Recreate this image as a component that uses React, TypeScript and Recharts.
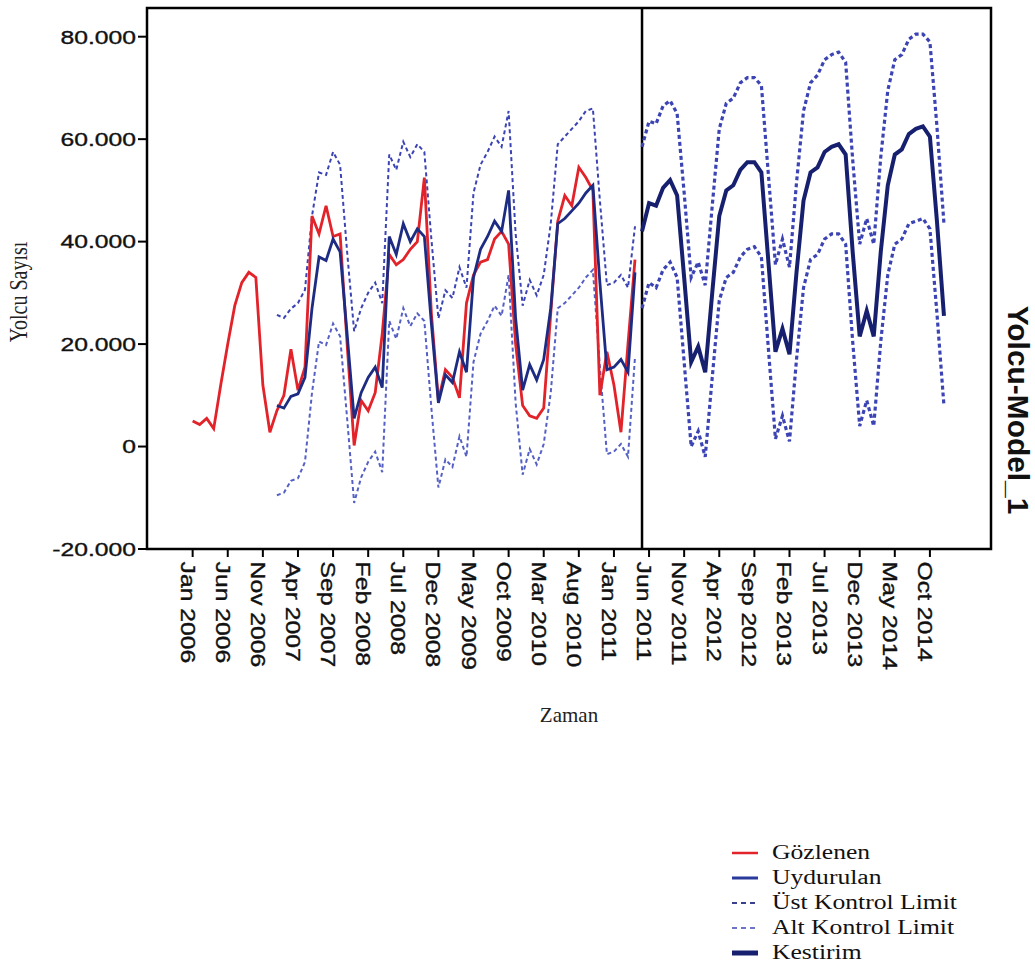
import React from "react";
import {
  ComposedChart,
  Line,
  XAxis,
  YAxis,
  ReferenceArea,
  ReferenceLine,
} from "recharts";

// month index 0 = Jan 2006, 107 = Dec 2014
const tickMonths = [0, 5, 10, 15, 20, 25, 30, 35, 40, 45, 50, 55, 60, 65, 70, 75, 80, 85, 90, 95, 100, 105];
const tickLabels = [
  "Jan 2006", "Jun 2006", "Nov 2006", "Apr 2007", "Sep 2007", "Feb 2008",
  "Jul 2008", "Dec 2008", "May 2009", "Oct 2009", "Mar 2010", "Aug 2010",
  "Jan 2011", "Jun 2011", "Nov 2011", "Apr 2012", "Sep 2012", "Feb 2013",
  "Jul 2013", "Dec 2013", "May 2014", "Oct 2014",
];
const yTicks = [-20000, 0, 20000, 40000, 60000, 80000];

// Gözlenen: Jan 2006 - Apr 2011
const observed = [
  5000, 4300, 5500, 3500, 12000, 20000, 27500, 32000, 34000, 33000, 12000, 2800,
  7000, 10000, 19000, 11000, 15500, 45000, 41500, 47000, 41000, 41500, 20000, 200,
  9000, 7000, 10500, 22000, 37500, 35500, 36500, 38500, 40000, 52500, 26000, 9000,
  15000, 13500, 9500, 28000, 33500, 36000, 36500, 40500, 42000, 39500, 20000, 8000,
  6000, 5500, 7500, 26000, 44000, 49000, 47000, 54500, 52500, 50000, 10000, 18500,
  12000, 2800, 20000, 36500,
];

// Uydurulan + control limits: Jan 2007 - Apr 2011
const fitStart = 12;
const fitted = [
  8000, 7500, 9800, 10300, 13500, 27000, 37000, 36300, 40500, 38000, 22000, 5500,
  10500, 13500, 15500, 11500, 41000, 37500, 43500, 40000, 42500, 41000, 24000, 8500,
  14000, 12500, 18500, 14500, 33000, 38500, 41000, 44000, 42000, 50000, 25000, 11000,
  16000, 13000, 17000, 27000, 43500, 44500, 46000, 47500, 49500, 51000, 32000, 15000,
  15500, 17000, 14500, 34000,
];
const upperFit = [
  25700, 25100, 26900, 28000, 30600, 45000, 53500, 53000, 57500, 55000, 38000, 22500,
  27000, 30000, 32000, 28000, 57000, 54000, 59500, 56500, 59000, 57500, 40500, 25000,
  30500, 29000, 35000, 31000, 49500, 55000, 57500, 60500, 58500, 65500, 41500, 27500,
  32500, 29500, 33500, 43500, 59000, 60500, 62000, 63500, 65500, 66000, 48000, 31500,
  32000, 33500, 31000, 43000,
];
const lowerFit = [
  -9500, -9000, -6700, -6200, -3000, 10500, 20500, 19800, 24000, 21500, 5500, -11000,
  -6000, -3000, -1000, -5000, 24500, 21000, 27000, 23500, 26000, 24500, 7500, -8000,
  -2500, -4000, 2000, -2000, 16500, 22000, 24500, 27500, 25500, 33500, 8500, -5500,
  -500, -3500, 500, 10500, 27000, 28000, 29500, 31000, 33000, 34500, 15500, -1500,
  -1000, 500, -2000, 17500,
];

// Kestirim + control limits: May 2011 - Dec 2014
const fcStart = 64;
const forecast = [
  42000, 47500, 47000, 50500, 52000, 49000, 33000, 16500,
  19500, 14500, 30000, 45000, 50000, 51000, 54000, 55500, 55500, 53500, 36000, 18500,
  23000, 18000, 34000, 48000, 53500, 54500, 57500, 58500, 59000, 57000, 38000, 21500,
  26500, 21500, 38000, 51000, 57000, 58000, 61000, 62000, 62500, 60500, 44000, 25500,
];
const upperFc = [
  58500, 63500, 63000, 66500, 67500, 65000, 49500, 33000,
  36000, 31500, 47000, 62000, 67000, 68000, 71000, 72000, 72000, 70500, 53000, 35500,
  40500, 35000, 51500, 65500, 71000, 72500, 75500, 76500, 77000, 75000, 56000, 39500,
  44500, 39500, 56500, 69500, 75500, 76500, 79500, 80500, 80500, 79000, 62500, 43500,
];
const lowerFc = [
  27000, 32000, 31000, 34500, 36000, 33000, 16500, 0,
  3000, -2000, 13500, 28500, 33000, 34000, 37000, 38500, 39000, 37000, 19000, 1500,
  6000, 1000, 17000, 31000, 36500, 37500, 40500, 41500, 41500, 39500, 20500, 4000,
  9000, 4000, 20500, 33500, 39500, 40500, 43500, 44000, 44500, 42500, 26000, 8000,
];

const totalMonths = 108;
const pick = (arr: number[], start: number, i: number) =>
  i >= start && i < start + arr.length ? arr[i - start] : null;

const data = Array.from({ length: totalMonths }, (_, i) => ({
  i,
  obs: pick(observed, 0, i),
  fit: pick(fitted, fitStart, i),
  ucl: pick(upperFit, fitStart, i),
  lcl: pick(lowerFit, fitStart, i),
  fc: pick(forecast, fcStart, i),
  uclF: pick(upperFc, fcStart, i),
  lclF: pick(lowerFc, fcStart, i),
}));

const X_MIN = -6.5;
const X_MAX = 113.7;
const Y_MIN = -20000;
const Y_MAX = 85600;

const SANS = "'Liberation Sans', Arial, sans-serif";
const SERIF = "'Liberation Serif', 'Times New Roman', serif";

const RED = "#e2232a";
const NAVY = "#1d2c82";
const DEEP = "#17206f";
const DASH_UP = "#3c44b4";
const DASH_LO = "#5560c4";

const fmtThousands = (v: number) => {
  const s = Math.abs(v).toString().replace(/\B(?=(\d{3})+(?!\d))/g, ".");
  return v < 0 ? "-" + s : s;
};

const XTick = (props: any) => {
  const { x, y, payload } = props;
  const idx = tickMonths.indexOf(payload.value);
  return (
    <g transform={`translate(${x},${y})`}>
      <text
        transform="rotate(90) scale(1.3,1.05)"
        x={2}
        y={0}
        dy="0.6em"
        textAnchor="start"
        fontFamily={SANS}
        fontSize={19}
        fill="#111"
        stroke="#111"
        strokeWidth={0.35}
      >
        {tickLabels[idx]}
      </text>
    </g>
  );
};

const YTick = (props: any) => {
  const { x, y, payload } = props;
  return (
    <g transform={`translate(${x},${y}) scale(1.3,1)`}>
      <text
        x={0}
        y={0}
        dy="0.36em"
        textAnchor="end"
        fontFamily={SANS}
        fontSize={19}
        fill="#111"
        stroke="#111"
        strokeWidth={0.35}
      >
        {fmtThousands(payload.value)}
      </text>
    </g>
  );
};

const YLabel = () => (
  <text
    transform="translate(27,292) rotate(-90) scale(1,1.25)"
    textAnchor="middle"
    fontFamily={SERIF}
    fontSize={20}
    fill="#222"
  >
    Yolcu Sayısı
  </text>
);

const RightTitle = () => (
  <text
    transform="translate(1008,410) rotate(90) scale(1.15,1.1)"
    textAnchor="middle"
    fontFamily={SANS}
    fontWeight="bold"
    fontSize={26}
    fill="#111"
  >
    Yolcu-Model_1
  </text>
);

const legendItems = [
  { name: "Gözlenen", color: RED, width: 2.5, dash: undefined },
  { name: "Uydurulan", color: "#2a3a9c", width: 3, dash: undefined },
  { name: "Üst Kontrol Limit", color: "#3a3f8e", width: 2, dash: "5 4" },
  { name: "Alt Kontrol Limit", color: "#6e74c8", width: 2, dash: "5 4" },
  { name: "Kestirim", color: DEEP, width: 5, dash: undefined },
];

export default function App() {
  return (
    <div
      style={{
        position: "absolute",
        left: 0,
        top: 0,
        width: 1035,
        height: 973,
        background: "#fff",
      }}
    >
      <ComposedChart
        width={1035}
        height={973}
        data={data}
        margin={{ top: 8, right: 44, bottom: 244, left: 0 }}
      >
        <XAxis
          dataKey="i"
          type="number"
          domain={[X_MIN, X_MAX]}
          allowDataOverflow
          ticks={tickMonths}
          interval={0}
          tick={<XTick />}
          tickSize={8}
          height={180}
          axisLine={{ stroke: "#000", strokeWidth: 2 }}
          tickLine={{ stroke: "#000", strokeWidth: 2 }}
          label={{
            value: "Zaman",
            position: "insideBottom",
            offset: 7,
            fontFamily: SERIF,
            fontSize: 21,
            fill: "#222",
          }}
        />
        <YAxis
          type="number"
          domain={[Y_MIN, Y_MAX]}
          allowDataOverflow
          ticks={yTicks}
          interval={0}
          width={147}
          tickSize={9}
          tick={<YTick />}
          axisLine={{ stroke: "#000", strokeWidth: 2 }}
          tickLine={{ stroke: "#000", strokeWidth: 2 }}
          label={<YLabel />}
        />
        <ReferenceArea
          x1={X_MIN}
          x2={X_MAX}
          y1={Y_MIN}
          y2={Y_MAX}
          fill="none"
          stroke="#000"
          strokeWidth={2.5}
          label={<RightTitle />}
        />
        <ReferenceLine x={64} stroke="#000" strokeWidth={2.5} />

        <Line dataKey="ucl" stroke={DASH_UP} strokeWidth={2} strokeDasharray="4 3" dot={false} isAnimationActive={false} />
        <Line dataKey="lcl" stroke={DASH_LO} strokeWidth={2} strokeDasharray="4 3" dot={false} isAnimationActive={false} />
        <Line dataKey="uclF" stroke={DASH_UP} strokeWidth={3.2} strokeDasharray="4 3" dot={false} isAnimationActive={false} />
        <Line dataKey="lclF" stroke={DASH_UP} strokeWidth={3.2} strokeDasharray="4 3" dot={false} isAnimationActive={false} />
        <Line dataKey="obs" stroke={RED} strokeWidth={2.8} dot={false} isAnimationActive={false} />
        <Line dataKey="fit" stroke={NAVY} strokeWidth={2.8} dot={false} isAnimationActive={false} />
        <Line dataKey="fc" stroke={DEEP} strokeWidth={4} dot={false} isAnimationActive={false} />
      </ComposedChart>

      <div
        style={{
          position: "absolute",
          left: 730,
          top: 840,
          fontFamily: SERIF,
          fontSize: 20,
          color: "#111",
          lineHeight: "25px",
        }}
      >
        {legendItems.map((it) => (
          <div key={it.name} style={{ display: "flex", alignItems: "center", height: 25 }}>
            <svg width={30} height={12} style={{ marginRight: 12 }}>
              <line
                x1={2}
                x2={28}
                y1={6}
                y2={6}
                stroke={it.color}
                strokeWidth={it.width}
                strokeDasharray={it.dash}
              />
            </svg>
            <span
              style={{
                display: "inline-block",
                transform: "scaleX(1.28)",
                transformOrigin: "left center",
                whiteSpace: "nowrap",
              }}
            >
              {it.name}
            </span>
          </div>
        ))}
      </div>
    </div>
  );
}
